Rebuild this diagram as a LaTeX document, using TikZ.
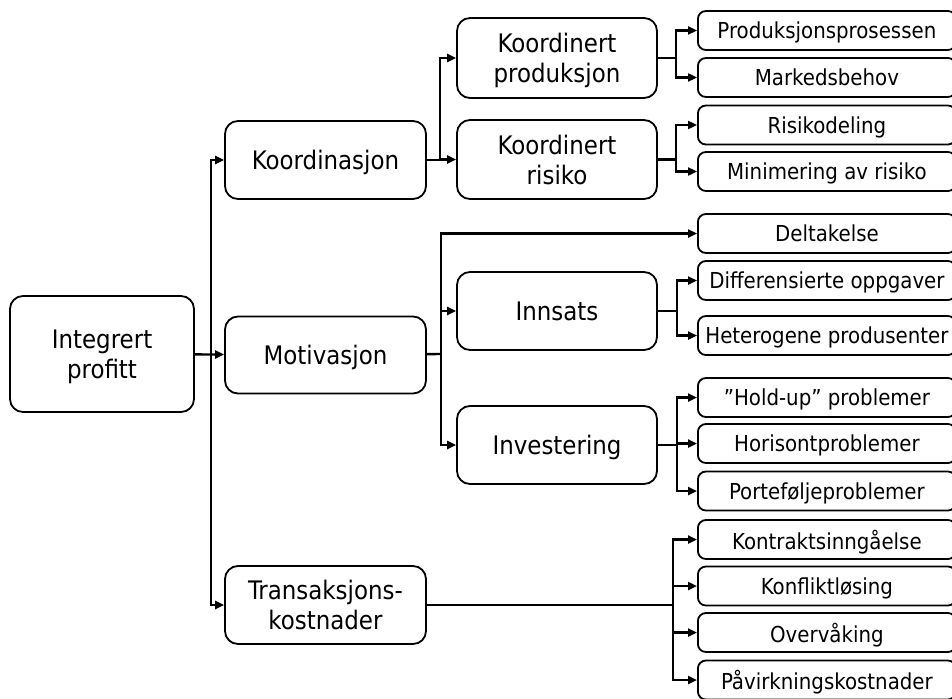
\documentclass[tikz,border=0pt]{standalone}
\usepackage{fontspec}
\setmainfont{DejaVu Sans Condensed}
\usetikzlibrary{arrows.meta}
\tikzset{
  big/.style={draw, line width=1.8pt, rounded corners=13pt, minimum width=201pt, align=center,
    font=\fontsize{25.5}{30}\selectfont, inner sep=0pt, text depth=0pt},
  small/.style={draw, line width=1.8pt, rounded corners=8pt, minimum width=258pt, minimum height=39pt,
    anchor=west, font=\fontsize{22}{26}\selectfont, inner sep=0pt, text depth=0pt},
  conn/.style={line width=2.4pt},
  arr/.style={line width=2.4pt, -{Triangle[length=9pt,width=8pt]}},
}
\begin{document}
\begin{tikzpicture}[x=1pt,y=-1pt]
\useasboundingbox (0,0) rectangle (952,698);
% level 0
\node[big, minimum width=184pt, minimum height=116pt] (prof) at (102,354) {Integrert\\profitt};
% level 1
\node[big, minimum height=78pt] (koord) at (325.5,160) {Koordinasjon};
\node[big, minimum height=77pt] (motiv) at (325.5,355) {Motivasjon};
\node[big, minimum height=78pt] (trans) at (325.5,605) {Transaksjons-\\kostnader};
% level 2
\node[big, minimum width=200pt, minimum height=80pt] (kprod) at (557,58) {Koordinert\\produksjon};
\node[big, minimum width=200pt, minimum height=79pt] (krisk) at (557,159.5) {Koordinert\\risiko};
\node[big, minimum width=200pt, minimum height=78pt] (inns) at (557,311) {Innsats};
\node[big, minimum width=200pt, minimum height=78pt] (inv) at (557,445) {Investering};
% level 3
\node[small] (pp) at (697,30.5) {Produksjonsprosessen};
\node[small] (mb) at (697,77.5) {Markedsbehov};
\node[small] (rd) at (697,125) {Risikodeling};
\node[small] (mr) at (697,171.5) {Minimering av risiko};
\node[small] (dt) at (697,233.5) {Deltakelse};
\node[small] (do) at (697,280.5) {Differensierte oppgaver};
\node[small] (hp) at (697,335.5) {Heterogene produsenter};
\node[small] (hu) at (697,397.5) {"Hold-up" problemer};
\node[small] (hz) at (697,443.5) {Horisontproblemer};
\node[small] (pf) at (697,491) {Porteføljeproblemer};
\node[small] (ks) at (697,539.5) {Kontraktsinngåelse};
\node[small] (kl) at (697,586) {Konfliktløsing};
\node[small] (ov) at (697,632.5) {Overvåking};
\node[small] (pv) at (697,680) {Påvirkningskostnader};
% junctions
\coordinate (jT) at (211,354);
\coordinate (jK) at (440,160);
\coordinate (jM) at (441,354);
\coordinate (jKP) at (676,58);
\coordinate (jKR) at (676,159.5);
\coordinate (jI) at (677,311);
\coordinate (jV) at (677,445);
\coordinate (jX) at (673,605);
% connectors
\draw[arr] (prof) -- (motiv);
\draw[arr] (jT) |- (koord);
\draw[arr] (jT) |- (trans);
\draw[conn] (koord) -- (jK);
\draw[arr] (jK) |- (kprod);
\draw[arr] (jK) |- (krisk);
\draw[conn] (motiv) -- (jM);
\draw[arr] (jM) |- (dt);
\draw[arr] (jM) |- (inns);
\draw[arr] (jM) |- (inv);
\draw[conn] (kprod) -- (jKP);
\draw[arr] (jKP) |- (pp);
\draw[arr] (jKP) |- (mb);
\draw[conn] (krisk) -- (jKR);
\draw[arr] (jKR) |- (rd);
\draw[arr] (jKR) |- (mr);
\draw[conn] (inns) -- (jI);
\draw[arr] (jI) |- (do);
\draw[arr] (jI) |- (hp);
\draw[conn] (inv) -- (jV);
\draw[arr] (jV) |- (hu);
\draw[arr] (jV) |- (hz);
\draw[arr] (jV) |- (pf);
\draw[conn] (trans) -- (jX);
\draw[arr] (jX) |- (ks);
\draw[arr] (jX) |- (kl);
\draw[arr] (jX) |- (ov);
\draw[arr] (jX) |- (pv);
\end{tikzpicture}
\end{document}
